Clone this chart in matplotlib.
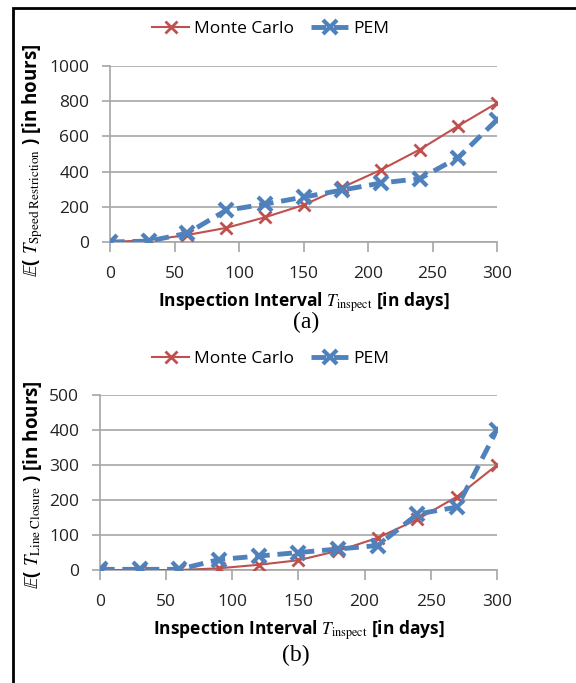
import matplotlib.pyplot as plt
from matplotlib.patches import Rectangle

# data
days = [0, 30, 60, 90, 120, 150, 180, 210, 240, 270, 300]
mc_speed = [0, 10, 40, 80, 140, 210, 310, 410, 525, 660, 790]
pem_speed = [0, 5, 50, 180, 215, 255, 295, 335, 360, 480, 695]
mc_closure = [0, 0, 0, 5, 15, 28, 55, 92, 145, 210, 300]
pem_closure = [2, 2, 2, 30, 40, 50, 60, 70, 160, 180, 400]

x_ticks = [0, 50, 100, 150, 200, 250, 300]
red = '#C0504D'
blue = '#4F81BD'
grid_col = '#A6A6A6'

plt.rcParams['mathtext.fontset'] = 'stix'
plt.rcParams['font.family'] = ['Open Sans', 'DejaVu Sans']


def draw_panel(ax, mc, pem, ymax, ystep, ylab, ylab_xy, caption, leg_y):
    ax.plot(days, mc, color=red, lw=1.5, marker='x', ms=9, mew=2, label='Monte Carlo', zorder=3)
    ax.plot(days, pem, color=blue, lw=3.5, ls=(0, (3, 1.6)), marker='x', ms=10, mew=3,
            label='PEM', zorder=4)
    ax.set_xlim(0, 300)
    ax.set_ylim(0, ymax)
    ax.set_xticks(x_ticks)
    ax.set_yticks(range(0, ymax + 1, ystep))
    ax.yaxis.grid(True, color=grid_col, lw=1.2)
    ax.set_axisbelow(True)
    for s in ['top', 'right']:
        ax.spines[s].set_visible(False)
    for s in ['left', 'bottom']:
        ax.spines[s].set_color(grid_col)
        ax.spines[s].set_linewidth(1.2)
    ax.tick_params(axis='x', length=7, color=grid_col, width=1.2, labelsize=12.5,
                   labelcolor='#222222', pad=10)
    ax.tick_params(axis='y', length=6, color=grid_col, width=1.2, labelsize=12.5,
                   labelcolor='#222222', pad=9)
    ax.set_xlabel(r'Inspection Interval $T_{\mathrm{inspect}}$ [in days]', fontsize=12.5,
                  fontweight='bold', labelpad=6)
    ax.set_ylabel(ylab, fontsize=13.5, fontweight='bold', va='center')
    ax.yaxis.set_label_coords(*ylab_xy)
    ax.legend(loc='center', bbox_to_anchor=(0.47, leg_y), bbox_transform=ax.figure.transFigure,
              ncol=2, frameon=False, fontsize=12.5, handlelength=2.1, columnspacing=1.0,
              handletextpad=0.3)
    ax.figure.text(ax.get_position().x0 + 0.34, caption[1], caption[0], ha='center', va='center',
                   family='Liberation Serif', fontsize=17)


fig = plt.figure(figsize=(5.76, 6.83), dpi=100)
ax1 = fig.add_axes([0.191, 0.6457, 0.672, 0.2577])
ax2 = fig.add_axes([0.1736, 0.1654, 0.689, 0.2562])

draw_panel(ax1, mc_speed, pem_speed, 1000, 200,
           r'$\mathbb{E}$( $T_{\mathrm{Speed\ Restriction}}$ ) [in hours]', (-0.199, 0.466),
           ('(a)', 0.528), 0.958)
draw_panel(ax2, mc_closure, pem_closure, 500, 100,
           r'$\mathbb{E}$( $T_{\mathrm{Line\ Closure}}$ ) [in hours]', (-0.169, 0.49),
           ('(b)', 0.04), 0.475)

# black frame around the figure (left and top visible)
fig.patches.append(Rectangle((13 / 576, -0.05), 1.2, 1 - 8 / 683 + 0.05, transform=fig.transFigure,
                             fill=False, edgecolor='black', lw=2))

fig.savefig('out.png', dpi=100)
